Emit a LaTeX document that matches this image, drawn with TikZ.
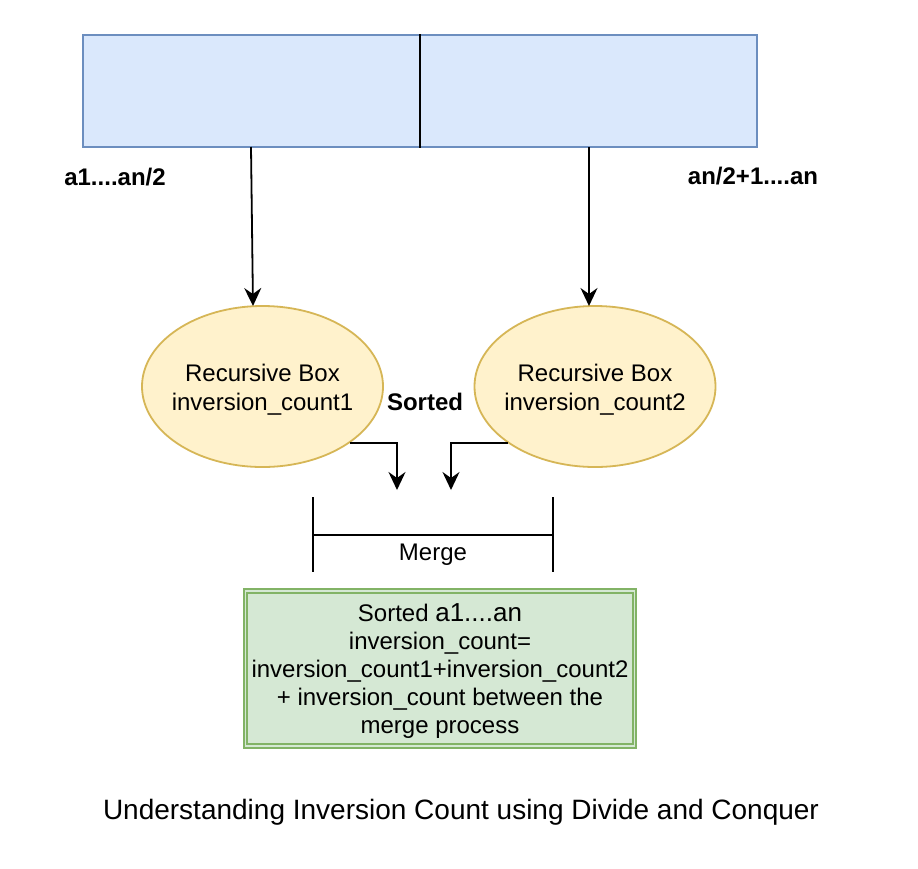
\documentclass[tikz,border=0pt]{standalone}
\usepackage{fontspec}
\setmainfont{Liberation Sans}
\usetikzlibrary{arrows.meta,shapes.geometric}
\definecolor{bluefill}{HTML}{DAE8FC}
\definecolor{blueline}{HTML}{6C8EBF}
\definecolor{ylwfill}{HTML}{FFF2CC}
\definecolor{ylwline}{HTML}{D6B656}
\definecolor{grnfill}{HTML}{D5E8D4}
\definecolor{grnline}{HTML}{82B366}
\tikzset{
  txt/.style={font=\fontsize{24}{28}\selectfont, align=center, inner sep=0pt},
  btxt/.style={font=\fontsize{24}{28}\selectfont\bfseries, align=center, inner sep=0pt},
  arr/.style={-{Stealth[length=18pt,width=17pt,inset=6pt]}, line width=1.8pt},
  plain/.style={line width=1.8pt},
  ell/.style={ellipse, draw=ylwline, fill=ylwfill, line width=1.8pt, minimum width=241pt, minimum height=161pt, inner sep=0pt},
  etxt/.style={font=\fontsize{24}{29}\selectfont, align=center, inner sep=0pt},
}
\begin{document}
\begin{tikzpicture}[x=1pt,y=-1pt]
\useasboundingbox[fill=white] (0,0) rectangle (918,868);

% top array box
\node[draw=blueline, fill=bluefill, line width=1.8pt, minimum width=674pt, minimum height=112pt, inner sep=0pt] (top) at (420,91) {};
\coordinate (dv) at (420,91);
\draw[plain] (top.north -| dv) -- (top.south -| dv);

% ellipses
\node[ell] (e1) at (262.5,386.5) {};
\node[ell] (e2) at (595,386.5) {};
\node[etxt, yshift=-3pt] (e1t) at (e1.center) {Recursive Box\\inversion\_count1};
\node[etxt, yshift=-3pt] (e2t) at (e2.center) {Recursive Box\\inversion\_count2};

% split arrows
\coordinate (s1) at (251,147);
\coordinate (t1) at (253,306);
\coordinate (s2) at (589,147);
\coordinate (t2) at (589,306);
\draw[arr] (s1) -- (t1);
\draw[arr] (s2) -- (t2);

% labels
\node[btxt] (la) at (115,177) {a1....an/2};
\node[btxt] (lb) at (753,176) {an/2+1....an};
\node[btxt] (ls) at (425,402) {Sorted};

% merge arrows
\coordinate (m1) at (397,490);
\coordinate (m2) at (451,490);
\draw[arr] (e1.-33) -| (m1);
\draw[arr] (e2.213) -| (m2);

% merge bracket
\coordinate (bl1) at (313,497);
\coordinate (bl2) at (313,572);
\coordinate (br1) at (553,497);
\coordinate (br2) at (553,572);
\coordinate (bm) at (313,535);
\draw[plain] (bl1) -- (bl2);
\draw[plain] (br1) -- (br2);
\draw[plain] (bm) -- (bm -| br1);
\node[txt] (mg) at (433,555) {Merge};

% result box
\node[draw=grnline, double=grnfill, double distance=1.8pt, line width=1.8pt, fill=grnfill, minimum width=389pt, minimum height=155pt, inner sep=0pt] (res) at (440,668.5) {};
\node[txt, yshift=-3pt] (rest) at (res.center)
 {Sorted {\fontsize{26}{28}\selectfont a1....an}\\inversion\_count=\\inversion\_count1+inversion\_count2\\+ inversion\_count between the\\merge process};

% caption
\node[font=\fontsize{28}{32}\selectfont, inner sep=0pt] (cap) at (461,812) {Understanding Inversion Count using Divide and Conquer};
\end{tikzpicture}
\end{document}
